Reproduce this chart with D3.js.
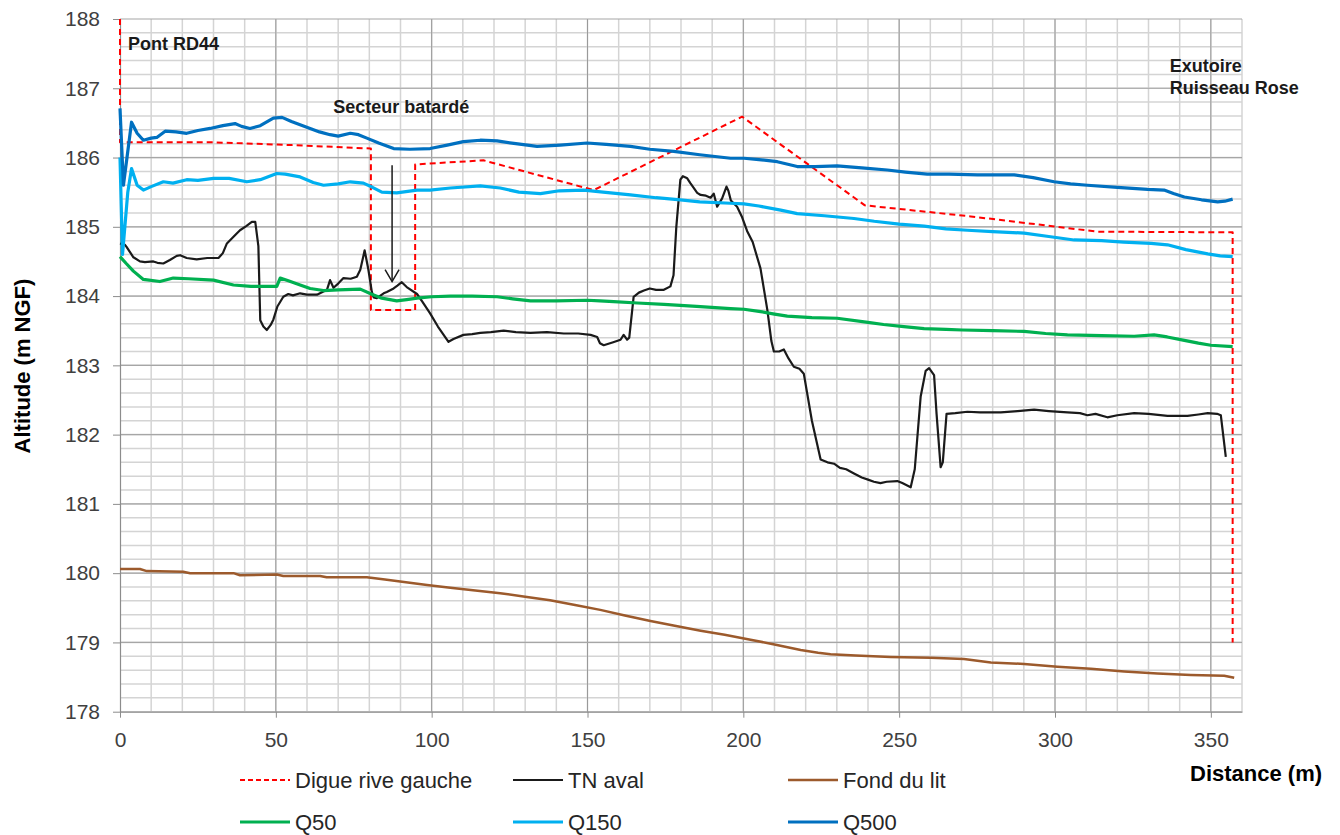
<!DOCTYPE html>
<html>
<head>
<meta charset="utf-8">
<script src="https://cdn.jsdelivr.net/npm/d3@7"></script>
<style>
    body { margin: 0; background: #ffffff; }
    text { font-family: "Liberation Sans", Arial, sans-serif; }
</style>
</head>
<body>
<svg id="drawing_region"></svg>
<script>
// Profil en long - distances (m) / altitudes (m NGF)
const digueRiveGauche = [[0, 188], [0, 186.22], [30, 186.22], [55, 186.18], [80.5, 186.13], [80.5, 183.8],
    [94.7, 183.8], [94.7, 185.9], [116.6, 185.96], [152, 185.53], [199.6, 186.59], [239, 185.31],
    [273, 185.15], [313.6, 184.93], [357, 184.92], [357, 179.0]];

const tnAval = [[0, 184.76], [1.6, 184.74], [2.1, 184.71], [4.3, 184.56], [6.4, 184.5], [8, 184.49], [10.7, 184.5],
    [12, 184.48], [13.9, 184.47], [16, 184.52], [18.2, 184.58], [19.3, 184.59], [21.4, 184.55], [24.6, 184.53],
    [28, 184.55], [31.6, 184.55], [33, 184.62], [34.3, 184.76], [36.5, 184.86], [38.5, 184.95], [40.5, 185.01],
    [42.3, 185.07], [43.4, 185.07], [44.4, 184.72], [45, 183.65], [46, 183.56], [47.1, 183.51], [48.3, 183.58],
    [49.2, 183.66], [50.5, 183.85], [52.4, 183.99], [54, 184.03], [55.5, 184.01], [57.8, 184.04], [60, 184.02],
    [63.2, 184.02], [66.4, 184.09], [67.4, 184.23], [68.5, 184.12], [70, 184.18], [71.7, 184.26], [74, 184.25],
    [76, 184.28], [77.1, 184.38], [78.5, 184.66], [79.7, 184.38], [80.8, 184.06], [81.4, 183.98], [82.4, 183.97],
    [84.6, 184.04], [85.6, 184.06], [87.8, 184.11], [89, 184.15], [90.4, 184.2], [92, 184.13], [95.3, 184.03],
    [97, 183.92], [99.5, 183.75], [102, 183.56], [105.4, 183.34], [107, 183.38], [110.2, 183.44], [113, 183.45],
    [115.6, 183.47], [119, 183.48], [123.1, 183.5], [127, 183.48], [131.7, 183.47], [137, 183.48], [142.4, 183.46],
    [147, 183.46], [151, 183.44], [153.1, 183.41], [154, 183.32], [155.2, 183.29], [158, 183.33], [160.6, 183.37],
    [161.6, 183.44], [162.7, 183.37], [163.4, 183.4], [164.8, 183.99], [166.5, 184.05], [168.1, 184.08],
    [170, 184.11], [172, 184.09], [174.5, 184.09], [176.6, 184.14], [177.6, 184.3], [178.5, 185.0], [179.8, 185.68],
    [180.6, 185.73], [182, 185.7], [183, 185.63], [185.2, 185.49], [186.3, 185.46], [188, 185.45], [189.5, 185.42],
    [190.5, 185.48], [191.6, 185.29], [193.2, 185.41], [194.6, 185.58], [195.2, 185.52], [196, 185.38],
    [198, 185.29], [199.5, 185.15], [201.2, 184.94], [203, 184.78], [205.5, 184.4], [207.7, 183.8], [209, 183.35],
    [209.8, 183.2], [211.5, 183.2], [213, 183.23], [214.5, 183.1], [216.2, 182.98], [218, 182.95], [219.4, 182.88],
    [222, 182.2], [224.8, 181.64], [227, 181.6], [229.1, 181.58], [231, 181.52], [233, 181.5], [235.5, 181.44],
    [238, 181.38], [240, 181.35], [241.9, 181.32], [244, 181.3], [246, 181.32], [249.4, 181.33], [251, 181.3],
    [253.7, 181.24], [255, 181.5], [256.9, 182.55], [258.5, 182.92], [259.6, 182.96], [261.2, 182.86],
    [262, 182.3], [263.3, 181.53], [264, 181.6], [265.2, 182.3], [268, 182.31], [271.9, 182.33], [276, 182.32],
    [282.6, 182.32], [288, 182.34], [293.3, 182.36], [298, 182.34], [304, 182.32], [308, 182.31], [310.4, 182.28],
    [313, 182.3], [316.8, 182.25], [320, 182.28], [325.4, 182.31], [330, 182.3], [336.1, 182.27], [342.5, 182.27],
    [346, 182.29], [349, 182.31], [352, 182.3], [353.2, 182.28], [354.8, 181.68]];

const fondDuLit = [[0, 180.06], [6.4, 180.06], [8.6, 180.03], [20.3, 180.02], [22.5, 180.0], [36.4, 180.0],
    [38.5, 179.97], [50.3, 179.98], [52.4, 179.96], [64.2, 179.96], [66.3, 179.94], [79.2, 179.94], [85, 179.91],
    [89.9, 179.88], [98.5, 179.83], [106, 179.79], [114, 179.75], [122, 179.71], [130, 179.66], [138, 179.61],
    [146, 179.54], [154.1, 179.47], [162, 179.39], [170.2, 179.31], [178, 179.24], [186.3, 179.17], [194, 179.11],
    [202.3, 179.04], [210, 178.97], [218.4, 178.89], [224, 178.85], [228, 178.83], [236, 178.81], [247.3, 178.79],
    [260.1, 178.78], [270.8, 178.76], [279.4, 178.71], [290.1, 178.69], [300.8, 178.65], [311.5, 178.62],
    [322.2, 178.58], [332.9, 178.55], [343.6, 178.53], [354.3, 178.52], [357.5, 178.49]];

const q50 = [[0, 184.57], [2, 184.47], [4.3, 184.36], [7.5, 184.24], [12.8, 184.21], [17.1, 184.26], [22, 184.25],
    [30, 184.23], [36.4, 184.16], [42, 184.14], [47.1, 184.14], [50.3, 184.14], [51.4, 184.26], [54, 184.22],
    [57.8, 184.16], [61, 184.11], [65.3, 184.08], [70, 184.09], [77.1, 184.1], [80.6, 184.03], [84, 183.97],
    [88.8, 183.93], [92, 183.95], [95.3, 183.97], [100, 183.99], [106, 184.0], [113, 184.0], [121, 183.99],
    [126, 183.96], [131.7, 183.93], [140, 183.93], [149.9, 183.94], [154, 183.93], [158.4, 183.92], [166, 183.9],
    [174.5, 183.88], [185, 183.85], [195.9, 183.82], [200.2, 183.81], [205, 183.78], [210, 183.74], [214.1, 183.71],
    [222, 183.69], [230.1, 183.68], [240, 183.62], [245, 183.59], [251.5, 183.56], [258, 183.53], [265, 183.52],
    [270.3, 183.51], [280, 183.5], [290.1, 183.49], [297, 183.46], [304, 183.44], [315, 183.43], [325.4, 183.42],
    [331.8, 183.44], [336, 183.41], [341.5, 183.36], [346, 183.32], [350, 183.29], [357, 183.27]];

const q150 = [[0, 186.0], [0.8, 184.6], [2.5, 185.5], [3.7, 185.84], [5.5, 185.6], [7.5, 185.53], [10, 185.58],
    [13.9, 185.65], [17, 185.63], [21.4, 185.68], [25, 185.67], [30, 185.7], [35, 185.7], [40.7, 185.65],
    [45, 185.68], [50.3, 185.77], [53, 185.76], [57.8, 185.72], [62, 185.64], [65.3, 185.6], [70, 185.62],
    [73.9, 185.65], [78.1, 185.63], [81, 185.57], [84, 185.5], [88.8, 185.49], [95.3, 185.53], [99.5, 185.53],
    [106, 185.56], [115.6, 185.59], [122, 185.56], [128, 185.5], [134.9, 185.48], [141, 185.52], [148.8, 185.53],
    [155, 185.5], [163.8, 185.46], [172, 185.42], [179.8, 185.39], [186, 185.36], [195.9, 185.34], [200.2, 185.33],
    [205, 185.3], [212, 185.24], [217.3, 185.19], [226, 185.16], [235.5, 185.12], [242, 185.08], [250, 185.04],
    [258, 185.01], [265, 184.97], [271.9, 184.95], [280, 184.93], [290.1, 184.91], [298, 184.86], [306.1, 184.81],
    [315, 184.8], [322, 184.78], [330.8, 184.76], [336.1, 184.74], [342, 184.67], [349, 184.61], [353, 184.58],
    [357, 184.57]];

const q500 = [[0, 186.71], [1.1, 185.6], [3.7, 186.51], [5.5, 186.35], [7.5, 186.25], [10, 186.28], [11.8, 186.29],
    [14.5, 186.38], [18, 186.37], [21.4, 186.35], [25, 186.39], [28.9, 186.42], [33, 186.46], [36.9, 186.49],
    [39, 186.45], [41.7, 186.42], [45, 186.46], [49.2, 186.57], [52, 186.58], [55, 186.52], [61, 186.42],
    [64, 186.37], [67.4, 186.33], [70, 186.31], [73.9, 186.35], [76.5, 186.33], [79.2, 186.28], [83, 186.21],
    [87.8, 186.13], [93, 186.12], [99.5, 186.13], [105, 186.18], [110.2, 186.23], [115.6, 186.25], [121, 186.24],
    [127, 186.2], [133.8, 186.16], [141.3, 186.18], [149.9, 186.21], [156, 186.19], [163.8, 186.16], [170, 186.12],
    [177.7, 186.09], [186, 186.04], [195.9, 185.99], [200.2, 185.99], [205, 185.97], [210.9, 185.94],
    [217.3, 185.87], [223, 185.87], [230.1, 185.88], [238, 185.85], [246.2, 185.82], [252, 185.79], [259, 185.76],
    [266, 185.76], [275.1, 185.75], [286.9, 185.75], [293, 185.71], [299.7, 185.65], [305, 185.62], [310.4, 185.6],
    [320, 185.57], [329.7, 185.54], [335, 185.53], [338, 185.48], [341.5, 185.43], [347, 185.39], [352.2, 185.36],
    [354.5, 185.37], [357, 185.4]];

const seriesNames = ['Digue rive gauche', 'TN aval', 'Fond du lit', 'Q50', 'Q150', 'Q500'];
const xTicks = [0, 50, 100, 150, 200, 250, 300, 350];
const yTicks = [178, 179, 180, 181, 182, 183, 184, 185, 186, 187, 188];

// annotations (x, y en unites du graphique)
const annotLabels = ['Pont RD44', 'Secteur batardé', 'Exutoire', 'Ruisseau Rose'];
const annotX = [2.6, 68.4, 336.8, 336.8];
const annotY = [187.55, 186.65, 187.23, 186.92];
const arrowX = 87.3;
const arrowY = [185.89, 184.21];

var config = {
    parent: '#drawing_region',
    width: 1340,
    height: 835,
    margin: { top: 19, right: 98, bottom: 123.3, left: 120 }
};

class ProfileChart {

    constructor(config) {
        this.config = config;
        this.series = [
            { name: seriesNames[0], data: digueRiveGauche, color: '#ff0000', width: 2, dash: '6,4' },
            { name: seriesNames[1], data: tnAval, color: '#1a1a1a', width: 2.2, dash: null },
            { name: seriesNames[2], data: fondDuLit, color: '#9c5a2c', width: 2.5, dash: null },
            { name: seriesNames[3], data: q50, color: '#00b050', width: 3.2, dash: null },
            { name: seriesNames[4], data: q150, color: '#00b0f0', width: 3.2, dash: null },
            { name: seriesNames[5], data: q500, color: '#0070c0', width: 3.2, dash: null }
        ];
        this.init();
    }

    init() {
        let self = this;
        let m = self.config.margin;

        self.svg = d3.select(self.config.parent)
            .attr('width', self.config.width)
            .attr('height', self.config.height);

        self.inner_width = self.config.width - m.left - m.right;
        self.inner_height = self.config.height - m.top - m.bottom;

        self.chart = self.svg.append('g')
            .attr('transform', `translate(${m.left}, ${m.top})`);

        self.xscale = d3.scaleLinear()
            .domain([0, 360])
            .range([0, self.inner_width]);

        self.yscale = d3.scaleLinear()
            .domain([178, 188])
            .range([self.inner_height, 0]);

        self.line = d3.line()
            .x(d => self.xscale(d[0]))
            .y(d => self.yscale(d[1]));
    }

    update() {
        let self = this;
        self.render();
    }

    render() {
        let self = this;
        let w = self.inner_width, h = self.inner_height;

        // grille secondaire
        const grid = self.chart.append('g');
        grid.selectAll('.vminor')
            .data(d3.range(10, 361, 10))
            .enter().append('line')
            .attr('x1', d => self.xscale(d)).attr('x2', d => self.xscale(d))
            .attr('y1', 0).attr('y2', h)
            .attr('stroke', '#d4d4d4').attr('stroke-width', 1.5);
        grid.selectAll('.hminor')
            .data(d3.range(0, 50).map(i => 178 + i * 0.2))
            .enter().append('line')
            .attr('x1', 0).attr('x2', w)
            .attr('y1', d => self.yscale(d)).attr('y2', d => self.yscale(d))
            .attr('stroke', '#d4d4d4').attr('stroke-width', 1.5);
        // grille principale
        grid.selectAll('.vmajor')
            .data(xTicks.slice(1))
            .enter().append('line')
            .attr('x1', d => self.xscale(d)).attr('x2', d => self.xscale(d))
            .attr('y1', 0).attr('y2', h)
            .attr('stroke', '#9a9a9a').attr('stroke-width', 1);
        grid.selectAll('.hmajor')
            .data(yTicks.slice(1))
            .enter().append('line')
            .attr('x1', 0).attr('x2', w)
            .attr('y1', d => self.yscale(d)).attr('y2', d => self.yscale(d))
            .attr('stroke', '#a6a6a6').attr('stroke-width', 1.2);

        // axes
        const xaxis = self.chart.append('g')
            .attr('transform', `translate(0, ${h})`)
            .call(d3.axisBottom(self.xscale).tickValues(xTicks).tickSize(6).tickPadding(14).tickSizeOuter(0));
        const yaxis = self.chart.append('g')
            .call(d3.axisLeft(self.yscale).tickValues(yTicks).tickSize(7).tickPadding(13).tickSizeOuter(0));
        [xaxis, yaxis].forEach(a => {
            a.select('.domain').attr('stroke', '#8c8c8c').attr('stroke-width', 1.2);
            a.selectAll('.tick line').attr('stroke', '#8c8c8c');
            a.selectAll('.tick text')
                .attr('fill', '#404040')
                .style('font-size', '21px')
                .style('font-family', '"Liberation Sans", Arial, sans-serif');
        });

        // series
        self.chart.selectAll('.serie')
            .data(self.series)
            .enter().append('path')
            .attr('d', d => self.line(d.data))
            .attr('fill', 'none')
            .attr('stroke', d => d.color)
            .attr('stroke-width', d => d.width)
            .attr('stroke-dasharray', d => d.dash)
            .attr('stroke-linejoin', 'round');

        // fleche secteur batarde
        const ax = self.xscale(arrowX);
        const ay = self.yscale(arrowY[1]);
        self.chart.append('line')
            .attr('x1', ax).attr('x2', ax)
            .attr('y1', self.yscale(arrowY[0])).attr('y2', ay)
            .attr('stroke', '#1a1a1a').attr('stroke-width', 1.5);
        self.chart.append('path')
            .attr('d', `M${ax - 7},${ay - 12} L${ax},${ay} L${ax + 7},${ay - 12}`)
            .attr('fill', 'none')
            .attr('stroke', '#1a1a1a').attr('stroke-width', 1.5);

        // annotations
        self.chart.selectAll('.annot')
            .data(annotLabels)
            .enter().append('text')
            .attr('x', (d, i) => self.xscale(annotX[i]))
            .attr('y', (d, i) => self.yscale(annotY[i]))
            .attr('fill', '#1a1a1a')
            .style('font-size', '18px')
            .style('font-weight', 'bold')
            .text(d => d);

        // titres des axes
        self.svg.append('text')
            .attr('transform', 'translate(30, 366) rotate(-90)')
            .attr('text-anchor', 'middle')
            .attr('fill', '#000')
            .style('font-size', '22px')
            .style('font-weight', 'bold')
            .text('Altitude (m NGF)');
        self.svg.append('text')
            .attr('x', 1190).attr('y', 781)
            .attr('fill', '#000')
            .style('font-size', '22px')
            .style('font-weight', 'bold')
            .text('Distance (m)');

        // legende
        const legend = self.svg.append('g');
        const item = legend.selectAll('.item')
            .data(self.series)
            .enter().append('g')
            .attr('transform', (d, i) => `translate(${[240, 513, 788][i % 3]}, ${i < 3 ? 780 : 822})`);
        item.append('line')
            .attr('x1', 0).attr('x2', 50)
            .attr('stroke', d => d.color)
            .attr('stroke-width', d => d.width)
            .attr('stroke-dasharray', d => d.dash ? '5,3' : null);
        item.append('text')
            .attr('x', 55).attr('y', 7.6)
            .attr('fill', '#262626')
            .style('font-size', '22px')
            .text(d => d.name);
    }
}

const chart = new ProfileChart(config);
chart.update();
</script>
</body>
</html>
